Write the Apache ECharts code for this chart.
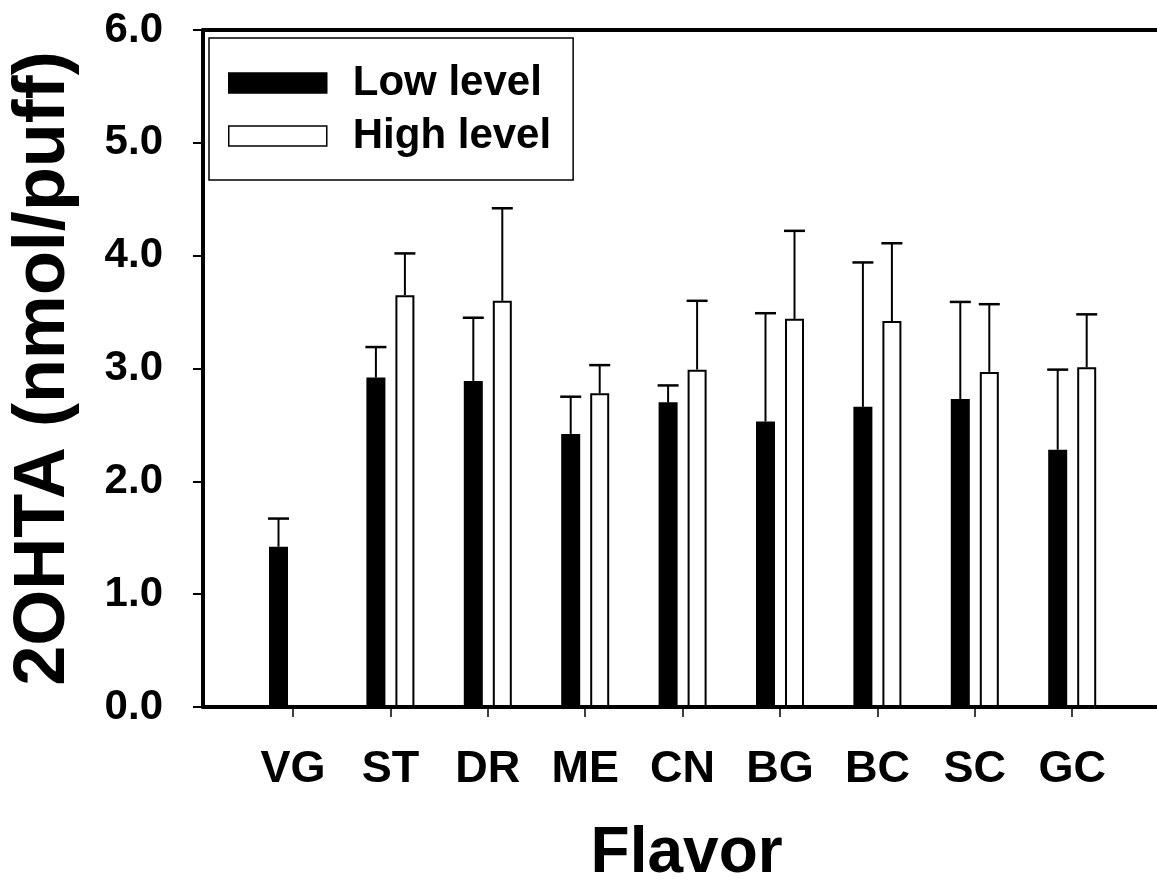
<!DOCTYPE html>
<html>
<head>
<meta charset="utf-8">
<script src="https://cdn.jsdelivr.net/npm/echarts@6/dist/echarts.min.js"></script>
<style>
html,body{margin:0;padding:0;background:#fff;}
#chart{width:1157px;height:884px;}
</style>
</head>
<body>
<div id="chart"></div>
<script>
// ---- data ----
const categories = ['VG','ST','DR','ME','CN','BG','BC','SC','GC'];
const lowMean  = [1.42, 2.92, 2.89, 2.42, 2.70, 2.53, 2.66, 2.73, 2.28];
const lowErr   = [0.25, 0.27, 0.56, 0.33, 0.15, 0.96, 1.28, 0.86, 0.71];
const highMean = [null, 3.65, 3.60, 2.78, 2.99, 3.44, 3.42, 2.97, 3.01];
const highErr  = [null, 0.37, 0.82, 0.25, 0.61, 0.78, 0.69, 0.60, 0.47];
const yTicks = [0, 1, 2, 3, 4, 5, 6];
const seriesNames = ['Low level', 'High level'];

// ---- layout/style constants ----
const FONT = '"Liberation Sans", Arial, sans-serif';
const BAR_W = 19;
const BAR_GAP_PX = 10;
const OFFSET = (BAR_W + BAR_GAP_PX) / 2;
const CAP = 21;

function errData(mean, err) {
  const out = [];
  for (let i = 0; i < categories.length; i++) {
    if (mean[i] != null) out.push([i, mean[i], err[i]]);
  }
  return out;
}
function errRender(sign) {
  return function (params, api) {
    const i = api.value(0);
    const base = api.coord([i, api.value(1)]);
    const top = api.coord([i, api.value(1) + api.value(2)]);
    const x = base[0] + sign * OFFSET;
    return {
      type: 'group',
      children: [
        {type: 'line', shape: {x1: x, y1: base[1], x2: x, y2: top[1]}, style: {stroke: '#000', lineWidth: 2}},
        {type: 'line', shape: {x1: x - CAP / 2, y1: top[1], x2: x + CAP / 2, y2: top[1]}, style: {stroke: '#000', lineWidth: 2.5}}
      ]
    };
  };
}

const chart = echarts.init(document.getElementById('chart'), null, {renderer: 'canvas'});
const option = {
  backgroundColor: '#fff',
  animation: false,
  textStyle: {fontFamily: FONT},
  legend: {
    orient: 'vertical',
    left: 209, top: 38,
    padding: [24, 22, 23, 19],
    itemWidth: 98, itemHeight: 20, itemGap: 11,
    borderColor: '#000', borderWidth: 1.5,
    icon: 'rect',
    itemStyle: {borderColor: '#000', borderWidth: 1.5},
    textStyle: {fontFamily: FONT, fontSize: 42, fontWeight: 'bold', color: '#000', padding: [0, 0, 0, 21]},
    data: seriesNames
  },
  grid: [
    {left: 244.3, right: 36.1, top: 30, bottom: 177, containLabel: false, outerBoundsMode: 'none'},
    {left: 203, right: -30, top: 30, bottom: 177, containLabel: false, outerBoundsMode: 'none'}
  ],
  xAxis: [
    {
      type: 'category', gridIndex: 0, data: categories,
      axisLine: {show: false},
      axisTick: {show: true, alignWithLabel: true, length: 10, lineStyle: {color: '#000', width: 1.5}},
      axisLabel: {fontFamily: FONT, fontSize: 45, fontWeight: 'bold', color: '#000', margin: 40},
      name: 'Flavor', nameLocation: 'middle', nameGap: 115,
      nameTextStyle: {fontFamily: FONT, fontSize: 64, fontWeight: 'bold', color: '#000', padding: [0, 0, 0, 8]}
    },
    {
      type: 'value', gridIndex: 1, min: 0, max: 1, position: 'bottom',
      axisLine: {show: true, lineStyle: {color: '#000', width: 4}},
      axisTick: {show: false}, axisLabel: {show: false}, splitLine: {show: false}
    },
    {
      type: 'value', gridIndex: 1, min: 0, max: 1, position: 'top',
      axisLine: {show: true, lineStyle: {color: '#000', width: 4}},
      axisTick: {show: false}, axisLabel: {show: false}, splitLine: {show: false}
    }
  ],
  yAxis: [
    {
      type: 'value', gridIndex: 0, min: yTicks[0], max: yTicks[yTicks.length - 1], interval: 1,
      show: false
    },
    {
      type: 'value', gridIndex: 1, min: yTicks[0], max: yTicks[yTicks.length - 1], interval: 1,
      axisLine: {show: true, lineStyle: {color: '#000', width: 4}},
      axisTick: {show: true, inside: false, length: 10, lineStyle: {color: '#000', width: 2}},
      axisLabel: {fontFamily: FONT, fontSize: 42, fontWeight: 'bold', color: '#000', margin: 40,
        formatter: v => v.toFixed(1)},
      splitLine: {show: false},
      name: '2OHTA (nmol/puff)', nameLocation: 'middle', nameGap: 123, nameRotate: 90,
      nameTextStyle: {fontFamily: FONT, fontSize: 72, fontWeight: 'bold', color: '#000'}
    }
  ],
  series: [
    {
      name: seriesNames[0], type: 'bar', xAxisIndex: 0, yAxisIndex: 0,
      data: lowMean, barWidth: BAR_W, barGap: (BAR_GAP_PX / BAR_W * 100) + '%',
      itemStyle: {color: '#000', borderColor: '#000', borderWidth: 0}
    },
    {
      name: seriesNames[1], type: 'bar', xAxisIndex: 0, yAxisIndex: 0,
      data: highMean, barWidth: BAR_W,
      itemStyle: {color: '#fff', borderColor: '#000', borderWidth: 2}
    },
    {
      type: 'custom', xAxisIndex: 0, yAxisIndex: 0, z: 3,
      data: errData(lowMean, lowErr), renderItem: errRender(-1),
      encode: {x: 0, y: 1}
    },
    {
      type: 'custom', xAxisIndex: 0, yAxisIndex: 0, z: 3,
      data: errData(highMean, highErr), renderItem: errRender(1),
      encode: {x: 0, y: 1}
    }
  ]
};
chart.setOption(option);
</script>
</body>
</html>
